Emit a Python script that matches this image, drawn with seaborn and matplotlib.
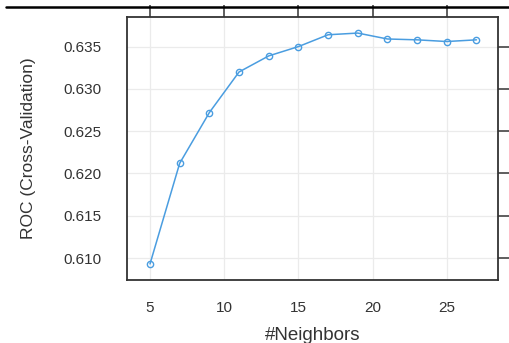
import matplotlib
matplotlib.use("Agg")
import matplotlib.pyplot as plt
import seaborn as sns
import pandas as pd
from matplotlib.lines import Line2D

neighbors = [5, 7, 9, 11, 13, 15, 17, 19, 21, 23, 25, 27]
roc = [0.6093, 0.6212, 0.6272, 0.6320, 0.6339, 0.6350, 0.6364, 0.6366, 0.6359, 0.6358, 0.6356, 0.6358]
xticks = [5, 10, 15, 20, 25]
yticks = [0.610, 0.615, 0.620, 0.625, 0.630, 0.635]

df = pd.DataFrame({"k": neighbors, "roc": roc})

sns.set_style("white")
plt.rcParams['font.family'] = ['Liberation Sans', 'DejaVu Sans']

fig = plt.figure(figsize=(5.10, 3.43), dpi=100)
ax = fig.add_axes([127/510, 1-280/343, (498-127)/510, (280-17)/343])

col = "#4a9de0"
sns.lineplot(data=df, x="k", y="roc", ax=ax, color=col, lw=1.1,
             marker="o", markersize=4.5, markerfacecolor="none",
             markeredgecolor=col, markeredgewidth=1.0)

ax.set_xlim(3.45, 28.45)
ax.set_ylim(0.6074, 0.6385)
ax.set_xticks(xticks)
ax.set_yticks(yticks)
ax.set_xticklabels([str(t) for t in xticks])
ax.set_yticklabels([f"{t:.3f}" for t in yticks])
ax.grid(True, color="#ebebeb", lw=0.9)
ax.set_axisbelow(True)

for s in ax.spines.values():
    s.set_color("#333333")
    s.set_linewidth(1.3)

ax.tick_params(axis="both", direction="out", length=9, width=1.1, color="#333333",
               labelsize=11, labelcolor="#333333", top=True, right=True,
               labeltop=False, labelright=False)
ax.tick_params(axis="y", pad=9)
ax.tick_params(axis="x", pad=6)

ax.set_xlabel("#Neighbors", fontsize=13.5, color="#333333", labelpad=9)
ax.set_ylabel("ROC (Cross-Validation)", fontsize=12.5, color="#333333", labelpad=20)

fig.add_artist(Line2D([6/510, 1.0], [1-7/343, 1-7/343], color="black", lw=1.8,
                      transform=fig.transFigure))

fig.savefig("out.png", dpi=100, facecolor="white")
